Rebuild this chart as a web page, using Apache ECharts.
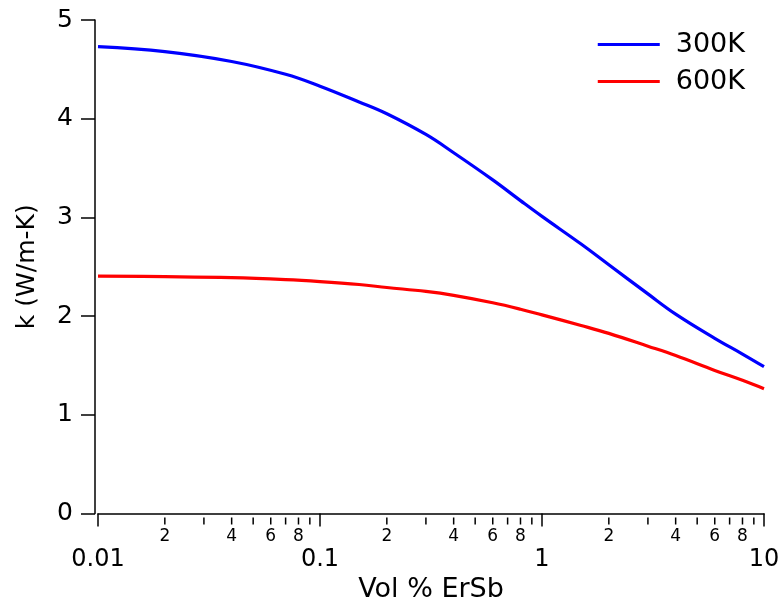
<!DOCTYPE html>
<html>
<head>
<meta charset="utf-8">
<script src="https://cdn.jsdelivr.net/npm/echarts@6/dist/echarts.min.js"></script>
<style>
  html, body { margin: 0; padding: 0; background: #fff; }
  #chart { width: 780px; height: 603px; }
</style>
</head>
<body>
<div id="chart"></div>
<script>
  // Vol % ErSb (log scale)
  var volPct = [0.01, 0.02, 0.04, 0.07, 0.1, 0.15, 0.2, 0.3, 0.4, 0.6, 0.8, 1, 1.5, 2, 3, 4, 6, 8, 10];
  // k (W/m-K)
  var k300 = [4.73, 4.68, 4.58, 4.45, 4.33, 4.17, 4.05, 3.84, 3.655, 3.38, 3.17, 3.01, 2.73, 2.52, 2.225, 2.02, 1.775, 1.615, 1.487];
  var k600 = [2.405, 2.40, 2.39, 2.37, 2.35, 2.32, 2.29, 2.25, 2.21, 2.135, 2.07, 2.012, 1.905, 1.825, 1.695, 1.60, 1.45, 1.35, 1.265];

  var seriesNames = ['300K', '600K'];
  var yTicks = [0, 1, 2, 3, 4, 5];

  // minor log ticks and their small labels
  var minorTicks = [0.02, 0.03, 0.04, 0.05, 0.06, 0.07, 0.08, 0.09,
                    0.2, 0.3, 0.4, 0.5, 0.6, 0.7, 0.8, 0.9,
                    2, 3, 4, 5, 6, 7, 8, 9];
  var minorLabels = ['2', '', '4', '', '6', '', '8', '',
                     '2', '', '4', '', '6', '', '8', '',
                     '2', '', '4', '', '6', '', '8', ''];

  var FONT = 'DejaVu Sans';
  var X_OFFSET = 4;

  var chart = echarts.init(document.getElementById('chart'));

  var option = {
    animation: false,
    backgroundColor: '#fff',
    grid: { left: 98, right: 16, top: 20, bottom: 89.5, outerBoundsMode: 'none', containLabel: false },
    legend: {
      data: seriesNames,
      orient: 'vertical',
      right: 30,
      top: 26,
      icon: 'rect',
      itemWidth: 62,
      itemHeight: 3,
      itemGap: 10,
      textStyle: { fontFamily: FONT, fontSize: 27, color: '#000', lineHeight: 24, padding: [0, 0, 0, 11] }
    },
    xAxis: {
      type: 'log',
      logBase: 10,
      min: 0.01,
      max: 10,
      offset: X_OFFSET,
      name: 'Vol % ErSb',
      nameLocation: 'middle',
      nameGap: 56,
      nameTextStyle: { fontFamily: FONT, fontSize: 27, color: '#000' },
      axisLine: { lineStyle: { color: '#000', width: 1.5 } },
      axisTick: { length: 13, lineStyle: { color: '#000', width: 1.5 } },
      axisLabel: {
        fontFamily: FONT, fontSize: 24, color: '#000', margin: 30,
        formatter: function (v) { return String(+v.toPrecision(3)); }
      },
      splitLine: { show: false }
    },
    yAxis: {
      type: 'value',
      min: yTicks[0],
      max: yTicks[yTicks.length - 1],
      interval: 1,
      offset: 3,
      name: 'k (W/m-K)',
      nameLocation: 'middle',
      nameGap: 55,
      nameTextStyle: { fontFamily: FONT, fontSize: 25, color: '#000' },
      axisLine: { show: true, lineStyle: { color: '#000', width: 1.5 } },
      axisTick: { show: true, length: 14, lineStyle: { color: '#000', width: 1.5 } },
      axisLabel: { fontFamily: FONT, fontSize: 25, color: '#000', margin: 22 },
      splitLine: { show: false }
    },
    series: [
      {
        name: seriesNames[0],
        type: 'line',
        data: volPct.map(function (v, i) { return [v, k300[i]]; }),
        smooth: 0.4,
        symbol: 'none',
        lineStyle: { color: '#0000ff', width: 3.2 },
        itemStyle: { color: '#0000ff' }
      },
      {
        name: seriesNames[1],
        type: 'line',
        data: volPct.map(function (v, i) { return [v, k600[i]]; }),
        smooth: 0.4,
        symbol: 'none',
        lineStyle: { color: '#ff0000', width: 3.2 },
        itemStyle: { color: '#ff0000' }
      },
      {
        type: 'custom',
        silent: true,
        clip: false,
        data: minorTicks.map(function (v) { return [v, 0]; }),
        renderItem: function (params, api) {
          var p = api.coord([api.value(0), 0]);
          var y0 = p[1] + X_OFFSET;
          var lbl = minorLabels[params.dataIndex];
          var children = [{
            type: 'line',
            shape: { x1: p[0], y1: y0, x2: p[0], y2: y0 + 7 },
            style: { stroke: '#000', lineWidth: 1.5 }
          }];
          if (lbl) {
            children.push({
              type: 'text',
              style: {
                text: lbl, x: p[0], y: y0 + 11,
                align: 'center', verticalAlign: 'top',
                font: '17px "DejaVu Sans"', fill: '#000'
              }
            });
          }
          return { type: 'group', children: children };
        }
      }
    ]
  };

  chart.setOption(option);
</script>
</body>
</html>
